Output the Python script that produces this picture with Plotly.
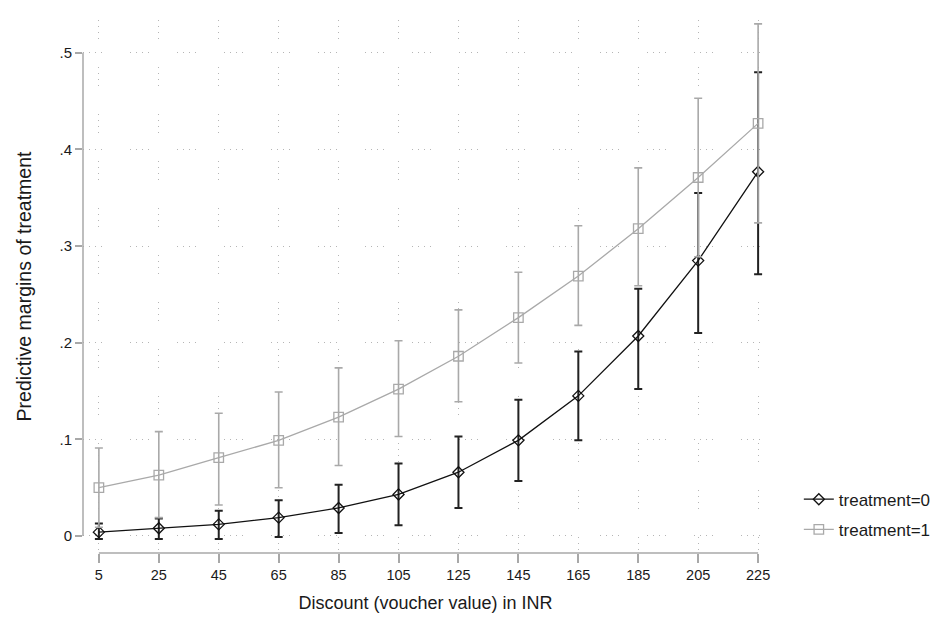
import plotly.graph_objects as go

discount = [5, 25, 45, 65, 85, 105, 125, 145, 165, 185, 205, 225]

t0_mean = [0.004, 0.008, 0.012, 0.019, 0.029, 0.043, 0.066, 0.099, 0.145, 0.207, 0.285, 0.377]
t0_lo = [-0.003, -0.003, -0.003, -0.001, 0.003, 0.011, 0.029, 0.057, 0.099, 0.152, 0.210, 0.271]
t0_hi = [0.013, 0.018, 0.026, 0.037, 0.053, 0.075, 0.103, 0.141, 0.191, 0.256, 0.355, 0.480]

t1_mean = [0.050, 0.063, 0.081, 0.099, 0.123, 0.152, 0.186, 0.226, 0.269, 0.318, 0.371, 0.427]
t1_lo = [0.009, 0.019, 0.032, 0.050, 0.073, 0.103, 0.139, 0.179, 0.218, 0.259, 0.289, 0.324]
t1_hi = [0.091, 0.108, 0.127, 0.149, 0.174, 0.202, 0.234, 0.273, 0.321, 0.381, 0.453, 0.530]

y_ticks = [0, 0.1, 0.2, 0.3, 0.4, 0.5]
y_tick_labels = ["0", ".1", ".2", ".3", ".4", ".5"]

FONT = "Liberation Sans, Arial, sans-serif"
BLACK = "#111111"
GRAY = "#a9a9a9"

fig = go.Figure()

fig.add_trace(go.Scatter(
    x=discount, y=t0_mean, mode="lines+markers", name="treatment=0",
    legendgroup="g0",
    line=dict(color=BLACK, width=1.3),
    marker=dict(symbol="diamond-open", size=8.5, color=BLACK, line=dict(width=1.3)),
    error_y=dict(type="data", symmetric=False,
                 array=[h - m for h, m in zip(t0_hi, t0_mean)],
                 arrayminus=[m - l for m, l in zip(t0_mean, t0_lo)],
                 color="#222222", thickness=2, width=4),
    cliponaxis=False,
))

fig.add_trace(go.Scatter(
    x=discount, y=t1_mean, mode="lines+markers", name="treatment=1",
    legendgroup="g1",
    line=dict(color=GRAY, width=1.3),
    marker=dict(symbol="square-open", size=9.5, color=GRAY, line=dict(width=1.3)),
    error_y=dict(type="data", symmetric=False,
                 array=[h - m for h, m in zip(t1_hi, t1_mean)],
                 arrayminus=[m - l for m, l in zip(t1_mean, t1_lo)],
                 color=GRAY, thickness=1.6, width=4),
    cliponaxis=False,
))

axis_col = "#a8a8a8"
grid_col = "#b5b5b5"
grid_dash = "1px,5px,1px,5px,1px,5px,1px,28px"
fig.update_layout(
    width=940, height=613,
    margin=dict(l=75, r=173, t=12, b=68),
    paper_bgcolor="white", plot_bgcolor="white",
    font=dict(family=FONT, color="#1a1a1a", size=14),
    showlegend=True,
    legend=dict(x=1.045, y=0.01, xanchor="left", yanchor="bottom",
                font=dict(size=17, family=FONT), tracegroupgap=5,
                itemwidth=30, bgcolor="rgba(0,0,0,0)"),
    xaxis=dict(
        range=[-0.3, 228.3], tickmode="array", tickvals=discount,
        ticks="outside", ticklen=9, tickcolor=axis_col, tickwidth=1.5,
        showline=False, zeroline=False, automargin=False,
        showgrid=True, gridcolor=grid_col, griddash=grid_dash, gridwidth=1,
        tickfont=dict(size=14.5, family=FONT),
        title=dict(text="Discount (voucher value) in INR", font=dict(size=18, family=FONT), standoff=13),
    ),
    yaxis=dict(
        range=[-0.0176, 0.534], tickmode="array", tickvals=y_ticks, ticktext=y_tick_labels,
        ticks="outside", ticklen=7, tickcolor=axis_col, tickwidth=1.5,
        showline=False, zeroline=False, automargin=False,
        showgrid=True, gridcolor=grid_col, griddash=grid_dash, gridwidth=1,
        tickfont=dict(size=15, family=FONT),
        title=dict(text="Predictive margins of treatment", font=dict(size=19.5, family=FONT), standoff=22),
    ),
    shapes=[
        dict(type="line", xref="paper", yref="y", x0=0, x1=0, y0=y_ticks[0], y1=y_ticks[-1],
             line=dict(color=axis_col, width=1.5)),
        dict(type="line", xref="x", yref="paper", x0=discount[0], x1=discount[-1], y0=0, y1=0,
             line=dict(color=axis_col, width=1.5)),
    ],
)

fig.write_html("out.html")
